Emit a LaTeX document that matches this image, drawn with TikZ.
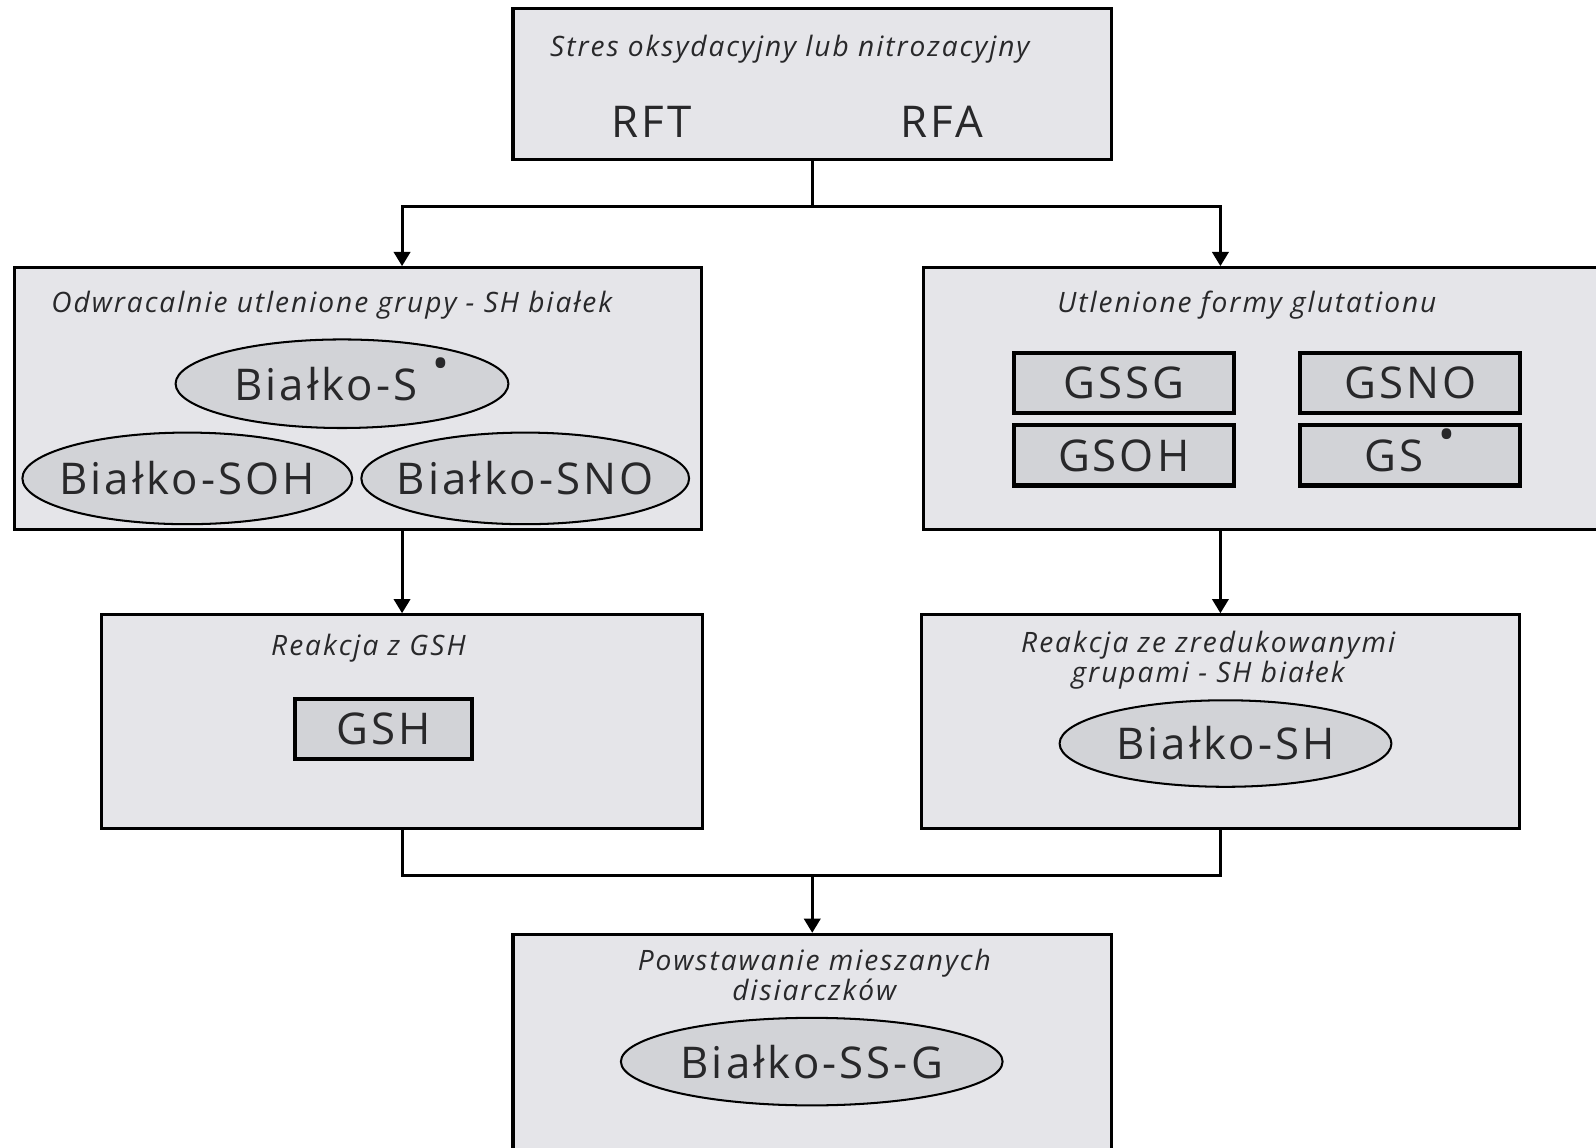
\documentclass[tikz,border=0pt]{standalone}
\usepackage{fontspec}
\setmainfont{Open Sans}
\newfontfamily\labelfont[LetterSpace=7]{Open Sans}
\usepackage{tikz}
\usetikzlibrary{shapes.geometric,arrows.meta}
\definecolor{boxgray}{RGB}{229,229,233}
\definecolor{shapegray}{RGB}{210,211,215}
\definecolor{ink}{RGB}{40,40,42}
\newcommand{\rad}{\hspace{0.35em}\smash{\raisebox{0.9ex}{\fontsize{22}{22}\selectfont\textbullet}}}

\begin{document}
\begin{tikzpicture}[x=0.5pt,y=-0.5pt,
  every node/.style={text=ink},
  bigbox/.style={draw, line width=1.5pt, fill=boxgray, inner sep=0pt},
  formbox/.style={draw, line width=2pt, fill=shapegray, inner sep=0pt,
    minimum width=108pt, minimum height=29.5pt, font=\labelfont\fontsize{21.5}{24}\selectfont},
  oval/.style={ellipse, draw, line width=1pt, fill=shapegray, inner xsep=-25pt, inner ysep=-3pt,
    font=\labelfont\fontsize{21.5}{24}\selectfont},
  heading/.style={font=\labelfont\fontsize{13.8}{12.5}\selectfont\itshape, align=center},
  label/.style={font=\labelfont\fontsize{21.5}{24}\selectfont},
  line/.style={line width=1.5pt},
  arr/.style={line width=1.5pt, -{Triangle[width=8pt,length=7pt]}}]
  \clip (0,0) rectangle (1568,1127);

  % stress box
  \node[bigbox, minimum width=294pt, minimum height=74.5pt] (stress) at (798,82.5) {};
  \node[heading] (stresstxt) at (776,48) {Stres oksydacyjny lub nitrozacyjny};
  \node[label] (rft) at (640,120) {RFT};
  \node[label] (rfa) at (925,120) {RFA};

  % oxidised protein thiols
  \node[bigbox, minimum width=337.5pt, minimum height=128.5pt] (oxprot) at (351.5,391.5) {};
  \node[heading] (oxprottxt) at (326,300) {Odwracalnie utlenione grupy - SH białek};
  \node[oval, minimum width=163.5pt, minimum height=43.5pt] (bs) at (336,377) {Białko-S\rad};
  \node[oval, minimum width=162pt, minimum height=45pt] (bsoh) at (184,470) {Białko-SOH};
  \node[oval, minimum width=161pt, minimum height=45pt] (bsno) at (516,470) {Białko-SNO};

  % oxidised glutathione
  \node[bigbox, minimum width=336.5pt, minimum height=128.5pt] (oxglut) at (1243.5,391.5) {};
  \node[heading] (oxgluttxt) at (1225,300) {Utlenione formy glutationu};
  \node[formbox] (gssg) at (1104,376.5) {GSSG};
  \node[formbox] (gsno) at (1385.5,376.5) {GSNO};
  \node[formbox] (gsoh) at (1104,447.5) {GSOH};
  \node[formbox] (gsrad) at (1385.5,447.5) {GS\rad};

  % reactions
  \node[bigbox, minimum width=295pt, minimum height=105pt] (gshreact) at (395,709) {};
  \node[heading] (gshreacttxt) at (362,637) {Reakcja z GSH};
  \node[formbox, minimum width=87pt] (gsh) at (377,716.5) {GSH};

  \node[bigbox, minimum width=294pt, minimum height=105pt] (shreact) at (1199,709) {};
  \node[heading] (shreacttxt) at (1187,649) {Reakcja ze zredukowanymi\\grupami - SH białek};
  \node[oval, minimum width=163pt, minimum height=42.5pt] (bsh) at (1204,730.5) {Białko-SH};

  % mixed disulfides
  \node[bigbox, minimum width=294pt, minimum height=113.5pt] (mixed) at (798,1031.5) {};
  \node[heading] (mixedtxt) at (800,958) {Powstawanie mieszanych\\disiarczków};
  \node[oval, minimum width=187.5pt, minimum height=43pt] (bssg) at (797.5,1043) {Białko-SS-G};

  % connectors
  \coordinate (split) at (798,203);
  \coordinate (join) at (798,860);
  \draw[line] (stress.south) -- (split);
  \draw[arr] (split) -| (oxprot.north -| gshreact.north);
  \draw[arr] (split) -| (oxglut.north -| shreact.north);
  \draw[arr] (oxprot.south -| gshreact.north) -- (gshreact.north);
  \draw[arr] (oxglut.south -| shreact.north) -- (shreact.north);
  \draw[line] (gshreact.south) -- (gshreact.south |- join) -- (shreact.south |- join) -- (shreact.south);
  \draw[arr] (join) -- (mixed.north);
\end{tikzpicture}
\end{document}
